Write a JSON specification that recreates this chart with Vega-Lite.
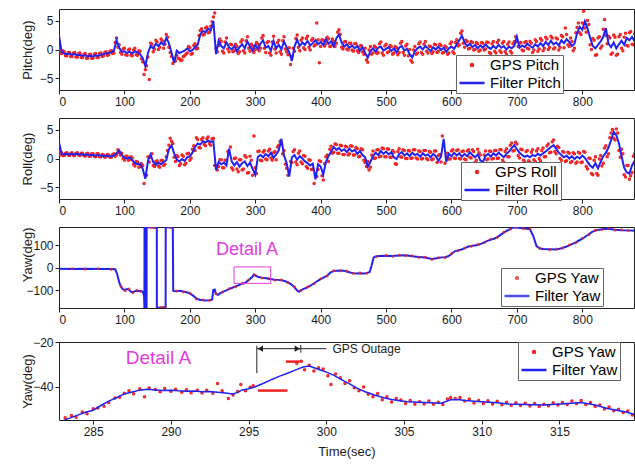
{
"$schema": "https://vega.github.io/schema/vega-lite/v6.json",
"background": "white",
"padding": {"left": 20, "top": 8, "right": 0, "bottom": 0},
"spacing": 9,
"datasets": {
"pr": [{"t":0,"p":2.5,"r":2.8},{"t":4,"p":-0.4,"r":0.8},{"t":8,"p":-0.7,"r":0.7},{"t":12,"p":-0.8,"r":0.8},{"t":16,"p":-0.7,"r":0.7},{"t":20,"p":-0.9,"r":0.8},{"t":24,"p":-0.8,"r":0.7},{"t":28,"p":-1.0,"r":0.8},{"t":32,"p":-0.9,"r":0.7},{"t":36,"p":-1.1,"r":0.7},{"t":40,"p":-1.0,"r":0.6},{"t":44,"p":-1.2,"r":0.7},{"t":48,"p":-1.1,"r":0.6},{"t":52,"p":-1.2,"r":0.6},{"t":56,"p":-1.0,"r":0.5},{"t":60,"p":-1.1,"r":0.6},{"t":64,"p":-0.9,"r":0.5},{"t":68,"p":-0.8,"r":0.4},{"t":72,"p":-0.7,"r":0.5},{"t":76,"p":-0.6,"r":0.4},{"t":80,"p":-0.5,"r":0.4},{"t":84,"p":-0.2,"r":0.5},{"t":88,"p":1.6,"r":0.9},{"t":92,"p":0.3,"r":1.4},{"t":96,"p":-0.4,"r":0.6},{"t":100,"p":-0.3,"r":0.1},{"t":104,"p":-0.6,"r":0.0},{"t":108,"p":-0.4,"r":0.2},{"t":112,"p":-0.7,"r":-0.3},{"t":116,"p":-0.3,"r":-0.8},{"t":120,"p":-0.5,"r":-1.0},{"t":124,"p":-0.8,"r":-0.9},{"t":128,"p":-1.5,"r":-1.8},{"t":132,"p":-2.9,"r":-3.5},{"t":136,"p":-0.6,"r":-0.4},{"t":140,"p":0.6,"r":0.7},{"t":144,"p":0.2,"r":-0.6},{"t":148,"p":1.0,"r":-1.1},{"t":152,"p":0.6,"r":-0.7},{"t":156,"p":1.2,"r":-1.0},{"t":160,"p":0.8,"r":-0.6},{"t":164,"p":2.0,"r":-0.3},{"t":168,"p":1.1,"r":1.6},{"t":172,"p":-0.5,"r":2.3},{"t":176,"p":-2.3,"r":0.9},{"t":180,"p":-0.2,"r":-0.2},{"t":184,"p":-0.6,"r":-0.5},{"t":188,"p":-0.4,"r":-0.1},{"t":192,"p":-0.2,"r":-0.4},{"t":196,"p":0.2,"r":0.2},{"t":200,"p":-0.3,"r":0.4},{"t":204,"p":-0.1,"r":1.0},{"t":208,"p":0.4,"r":2.0},{"t":212,"p":0.8,"r":2.6},{"t":216,"p":2.6,"r":2.4},{"t":220,"p":3.2,"r":3.0},{"t":224,"p":3.0,"r":2.8},{"t":228,"p":3.6,"r":3.1},{"t":232,"p":3.3,"r":2.9},{"t":236,"p":4.9,"r":3.0},{"t":240,"p":-0.8,"r":-2.0},{"t":244,"p":1.5,"r":-0.6},{"t":248,"p":0.6,"r":-1.0},{"t":252,"p":0.2,"r":-0.7},{"t":256,"p":1.2,"r":-1.2},{"t":260,"p":0.4,"r":1.7},{"t":264,"p":0.0,"r":-0.5},{"t":268,"p":0.6,"r":-1.2},{"t":272,"p":-0.3,"r":-0.6},{"t":276,"p":0.4,"r":-1.4},{"t":280,"p":0.9,"r":-0.8},{"t":284,"p":0.2,"r":-0.5},{"t":288,"p":1.4,"r":-1.3},{"t":292,"p":0.5,"r":-0.7},{"t":296,"p":-0.2,"r":-1.8},{"t":300,"p":0.8,"r":-2.8},{"t":304,"p":0.1,"r":0.3},{"t":308,"p":1.0,"r":0.6},{"t":312,"p":1.6,"r":0.2},{"t":316,"p":0.3,"r":0.8},{"t":320,"p":0.6,"r":0.4},{"t":324,"p":-0.2,"r":1.0},{"t":328,"p":1.5,"r":0.1},{"t":332,"p":0.2,"r":0.7},{"t":336,"p":0.8,"r":1.4},{"t":340,"p":0.0,"r":3.4},{"t":344,"p":1.4,"r":0.5},{"t":348,"p":0.4,"r":-0.8},{"t":352,"p":-0.5,"r":-3.1},{"t":356,"p":-2.0,"r":0.2},{"t":360,"p":0.5,"r":0.6},{"t":364,"p":1.7,"r":-0.2},{"t":368,"p":0.6,"r":0.4},{"t":372,"p":1.2,"r":0.0},{"t":376,"p":0.8,"r":-0.5},{"t":380,"p":1.5,"r":-0.8},{"t":384,"p":0.7,"r":-1.2},{"t":388,"p":1.1,"r":-0.9},{"t":392,"p":1.6,"r":-3.6},{"t":396,"p":0.9,"r":-1.0},{"t":400,"p":1.3,"r":-1.4},{"t":404,"p":0.8,"r":-2.8},{"t":408,"p":1.8,"r":-0.6},{"t":412,"p":1.0,"r":0.4},{"t":416,"p":1.4,"r":1.2},{"t":420,"p":0.6,"r":2.0},{"t":424,"p":1.9,"r":1.5},{"t":428,"p":2.6,"r":1.8},{"t":432,"p":1.2,"r":1.3},{"t":436,"p":0.5,"r":1.6},{"t":440,"p":0.9,"r":1.1},{"t":444,"p":0.3,"r":1.7},{"t":448,"p":0.7,"r":1.2},{"t":452,"p":0.2,"r":1.5},{"t":456,"p":0.6,"r":0.8},{"t":460,"p":-0.2,"r":1.3},{"t":464,"p":0.4,"r":0.6},{"t":468,"p":-0.6,"r":0.2},{"t":472,"p":-1.4,"r":-1.4},{"t":476,"p":-0.3,"r":-0.6},{"t":480,"p":0.2,"r":0.4},{"t":484,"p":-0.4,"r":1.0},{"t":488,"p":0.3,"r":0.6},{"t":492,"p":0.5,"r":1.3},{"t":496,"p":-0.2,"r":0.8},{"t":500,"p":0.1,"r":1.2},{"t":504,"p":0.4,"r":0.7},{"t":508,"p":-0.3,"r":1.1},{"t":512,"p":0.2,"r":0.2},{"t":516,"p":-0.5,"r":-0.1},{"t":520,"p":0.3,"r":0.8},{"t":524,"p":0.6,"r":1.1},{"t":528,"p":-0.2,"r":0.5},{"t":532,"p":0.1,"r":0.9},{"t":536,"p":-0.8,"r":0.4},{"t":540,"p":-1.4,"r":1.0},{"t":544,"p":-0.3,"r":0.6},{"t":548,"p":0.2,"r":0.8},{"t":552,"p":0.5,"r":0.3},{"t":556,"p":0.0,"r":0.9},{"t":560,"p":0.6,"r":0.5},{"t":564,"p":0.2,"r":0.7},{"t":568,"p":-0.3,"r":0.2},{"t":572,"p":0.4,"r":0.8},{"t":576,"p":0.0,"r":0.4},{"t":580,"p":0.5,"r":-0.4},{"t":584,"p":-0.1,"r":0.3},{"t":588,"p":0.3,"r":3.4},{"t":592,"p":-0.4,"r":-0.6},{"t":596,"p":0.2,"r":0.8},{"t":600,"p":0.5,"r":0.4},{"t":604,"p":0.1,"r":1.0},{"t":608,"p":0.9,"r":0.5},{"t":612,"p":1.6,"r":0.9},{"t":616,"p":2.4,"r":0.3},{"t":620,"p":1.2,"r":0.8},{"t":624,"p":0.6,"r":0.4},{"t":628,"p":1.0,"r":1.1},{"t":632,"p":0.4,"r":0.6},{"t":636,"p":0.8,"r":0.2},{"t":640,"p":0.2,"r":0.7},{"t":644,"p":0.7,"r":-0.3},{"t":648,"p":0.3,"r":-0.6},{"t":652,"p":0.9,"r":0.4},{"t":656,"p":0.4,"r":0.8},{"t":660,"p":0.1,"r":0.3},{"t":664,"p":0.6,"r":0.9},{"t":668,"p":0.2,"r":0.5},{"t":672,"p":0.8,"r":1.0},{"t":676,"p":0.3,"r":0.6},{"t":680,"p":0.6,"r":0.2},{"t":684,"p":0.0,"r":0.8},{"t":688,"p":0.5,"r":1.2},{"t":692,"p":0.2,"r":1.8},{"t":696,"p":0.6,"r":2.3},{"t":700,"p":2.2,"r":1.6},{"t":704,"p":0.3,"r":1.0},{"t":708,"p":0.7,"r":0.6},{"t":712,"p":0.4,"r":0.3},{"t":716,"p":1.0,"r":0.5},{"t":720,"p":0.6,"r":0.2},{"t":724,"p":0.3,"r":0.6},{"t":728,"p":0.9,"r":0.4},{"t":732,"p":0.5,"r":0.8},{"t":736,"p":1.1,"r":0.5},{"t":740,"p":0.6,"r":0.9},{"t":744,"p":1.3,"r":1.2},{"t":748,"p":0.8,"r":1.6},{"t":752,"p":1.5,"r":2.0},{"t":756,"p":0.9,"r":2.3},{"t":760,"p":1.2,"r":1.7},{"t":764,"p":0.7,"r":1.0},{"t":768,"p":1.6,"r":0.6},{"t":772,"p":1.1,"r":0.2},{"t":776,"p":1.8,"r":0.5},{"t":780,"p":1.3,"r":0.0},{"t":784,"p":0.6,"r":0.4},{"t":788,"p":1.0,"r":-0.1},{"t":792,"p":2.8,"r":0.3},{"t":796,"p":3.9,"r":0.0},{"t":800,"p":3.4,"r":0.5},{"t":804,"p":4.9,"r":0.1},{"t":808,"p":3.6,"r":-0.6},{"t":812,"p":2.0,"r":-1.2},{"t":816,"p":0.6,"r":-1.6},{"t":820,"p":0.2,"r":-0.8},{"t":824,"p":0.8,"r":-1.7},{"t":828,"p":1.4,"r":-0.6},{"t":832,"p":2.2,"r":0.4},{"t":836,"p":3.7,"r":1.0},{"t":840,"p":1.0,"r":1.9},{"t":844,"p":0.4,"r":3.2},{"t":848,"p":1.2,"r":4.6},{"t":852,"p":0.2,"r":4.0},{"t":856,"p":0.9,"r":2.6},{"t":860,"p":1.5,"r":0.4},{"t":864,"p":0.8,"r":-1.6},{"t":868,"p":2.0,"r":-2.4},{"t":872,"p":1.6,"r":-2.6},{"t":876,"p":2.2,"r":-1.2},{"t":880,"p":1.4,"r":-0.4}],
"g": [{"t":2,"p":-0.2,"r":0.6},{"t":6,"p":-0.2,"r":0.5},{"t":10,"p":-1.1,"r":0.9},{"t":14,"p":-0.5,"r":0.6},{"t":18,"p":-1.2,"r":0.9},{"t":22,"p":-0.6,"r":0.5},{"t":26,"p":-1.3,"r":0.9},{"t":30,"p":-0.7,"r":0.6},{"t":34,"p":-1.4,"r":0.9},{"t":38,"p":-0.8,"r":0.5},{"t":42,"p":-1.5,"r":0.8},{"t":46,"p":-0.9,"r":0.4},{"t":50,"p":-1.5,"r":0.8},{"t":54,"p":-0.8,"r":0.4},{"t":58,"p":-1.4,"r":0.8},{"t":62,"p":-0.7,"r":0.3},{"t":66,"p":-1.2,"r":0.7},{"t":70,"p":-0.5,"r":0.2},{"t":74,"p":-1.0,"r":0.7},{"t":78,"p":-0.3,"r":0.2},{"t":82,"p":-0.7,"r":0.7},{"t":86,"p":1.2,"r":0.4},{"t":90,"p":0.4,"r":1.5},{"t":94,"p":-0.5,"r":0.6},{"t":98,"p":0.1,"r":0.0},{"t":102,"p":-0.9,"r":0.4},{"t":106,"p":-0.1,"r":-0.3},{"t":110,"p":-1.0,"r":0.3},{"t":114,"p":-0.1,"r":-1.0},{"t":118,"p":-0.9,"r":-0.5},{"t":122,"p":-0.2,"r":-1.5},{"t":126,"p":-1.6,"r":-0.9},{"t":130,"p":-4.3,"r":-4.3},{"t":134,"p":-2.8,"r":-2.9},{"t":138,"p":-5.2,"r":-0.6},{"t":142,"p":0.9,"r":0.8},{"t":146,"p":0.1,"r":-1.4},{"t":150,"p":1.3,"r":-0.4},{"t":154,"p":0.4,"r":-1.5},{"t":158,"p":1.5,"r":-0.3},{"t":162,"p":0.9,"r":-1.0},{"t":166,"p":2.1,"r":1.4},{"t":170,"p":-0.5,"r":3.5},{"t":174,"p":-2.4,"r":2.6},{"t":178,"p":-2.0,"r":-0.5},{"t":182,"p":-1.5,"r":0.3},{"t":186,"p":-1.9,"r":-0.9},{"t":190,"p":-1.2,"r":0.4},{"t":194,"p":-0.8,"r":-0.8},{"t":198,"p":0.5,"r":0.9},{"t":202,"p":-0.8,"r":0.1},{"t":206,"p":0.7,"r":2.2},{"t":210,"p":0.1,"r":3.6},{"t":214,"p":2.4,"r":1.9},{"t":218,"p":3.6,"r":3.3},{"t":222,"p":2.6,"r":2.4},{"t":226,"p":3.9,"r":3.4},{"t":230,"p":3.0,"r":2.6},{"t":234,"p":4.8,"r":3.4},{"t":238,"p":6.3,"r":-1.2},{"t":242,"p":-0.4,"r":-2.0},{"t":246,"p":1.8,"r":-0.2},{"t":250,"p":-0.3,"r":-1.6},{"t":254,"p":1.3,"r":-0.3},{"t":258,"p":0.1,"r":1.2},{"t":262,"p":0.9,"r":2.0},{"t":266,"p":-0.4,"r":-2.0},{"t":270,"p":0.9,"r":0.1},{"t":274,"p":-0.7,"r":-2.3},{"t":278,"p":1.3,"r":-0.2},{"t":282,"p":-0.2,"r":-1.8},{"t":286,"p":1.5,"r":0.2},{"t":290,"p":0.2,"r":-2.4},{"t":294,"p":0.9,"r":-0.3},{"t":298,"p":-0.5,"r":3.9},{"t":302,"p":1.2,"r":-2.6},{"t":306,"p":-0.2,"r":1.3},{"t":310,"p":2.0,"r":-0.4},{"t":314,"p":0.2,"r":1.4},{"t":318,"p":1.2,"r":-0.2},{"t":322,"p":-0.6,"r":1.6},{"t":326,"p":1.3,"r":-0.3},{"t":330,"p":0.1,"r":1.2},{"t":334,"p":1.2,"r":2.0},{"t":338,"p":-0.4,"r":3.0},{"t":342,"p":1.5,"r":0.8},{"t":346,"p":0.1,"r":-1.0},{"t":350,"p":-0.9,"r":-2.9},{"t":354,"p":-2.6,"r":-0.5},{"t":358,"p":0.2,"r":1.2},{"t":362,"p":1.9,"r":-0.6},{"t":366,"p":0.4,"r":0.9},{"t":370,"p":1.6,"r":-0.6},{"t":374,"p":0.3,"r":0.5},{"t":378,"p":1.9,"r":-1.4},{"t":382,"p":0.4,"r":-0.2},{"t":386,"p":1.6,"r":-1.9},{"t":390,"p":0.6,"r":-4.3},{"t":394,"p":4.6,"r":-3.1},{"t":398,"p":-2.3,"r":-0.4},{"t":402,"p":1.7,"r":-3.0},{"t":406,"p":0.6,"r":-0.9},{"t":410,"p":2.1,"r":0.6},{"t":414,"p":0.5,"r":1.6},{"t":418,"p":1.8,"r":0.9},{"t":422,"p":0.5,"r":2.5},{"t":426,"p":3.0,"r":0.9},{"t":430,"p":2.6,"r":2.3},{"t":434,"p":0.1,"r":0.7},{"t":438,"p":1.4,"r":2.1},{"t":442,"p":-0.1,"r":0.6},{"t":446,"p":1.1,"r":2.2},{"t":450,"p":-0.3,"r":0.6},{"t":454,"p":1.0,"r":1.9},{"t":458,"p":-0.5,"r":0.3},{"t":462,"p":0.7,"r":1.7},{"t":466,"p":-0.8,"r":-0.3},{"t":470,"p":-1.8,"r":-1.4},{"t":474,"p":-0.1,"r":-2.0},{"t":478,"p":-0.8,"r":0.6},{"t":482,"p":0.6,"r":0.0},{"t":486,"p":-0.7,"r":1.5},{"t":490,"p":1.0,"r":0.3},{"t":494,"p":-0.6,"r":1.8},{"t":498,"p":0.6,"r":0.3},{"t":502,"p":-0.5,"r":1.7},{"t":506,"p":0.7,"r":0.2},{"t":510,"p":-0.8,"r":1.4},{"t":514,"p":0.5,"r":-0.9},{"t":518,"p":-0.9,"r":1.2},{"t":522,"p":1.1,"r":0.3},{"t":526,"p":-0.5,"r":1.5},{"t":530,"p":0.6,"r":0.0},{"t":534,"p":-1.1,"r":1.4},{"t":538,"p":-1.9,"r":0.0},{"t":542,"p":-0.1,"r":1.5},{"t":546,"p":-0.8,"r":0.1},{"t":550,"p":1.0,"r":1.3},{"t":554,"p":-0.5,"r":-0.1},{"t":558,"p":0.9,"r":1.4},{"t":562,"p":-0.3,"r":0.0},{"t":566,"p":0.6,"r":1.2},{"t":570,"p":-0.7,"r":-0.2},{"t":574,"p":0.9,"r":1.3},{"t":578,"p":-0.5,"r":-0.7},{"t":582,"p":0.9,"r":0.7},{"t":586,"p":-0.6,"r":3.9},{"t":590,"p":0.6,"r":-0.8},{"t":594,"p":-0.8,"r":0.9},{"t":598,"p":1.0,"r":-0.1},{"t":602,"p":-0.4,"r":1.5},{"t":606,"p":1.2,"r":0.0},{"t":610,"p":0.6,"r":1.5},{"t":614,"p":2.8,"r":-0.1},{"t":618,"p":1.1,"r":1.3},{"t":622,"p":1.6,"r":-0.2},{"t":626,"p":0.1,"r":1.5},{"t":630,"p":1.4,"r":0.1},{"t":634,"p":-0.1,"r":1.2},{"t":638,"p":1.2,"r":-0.3},{"t":642,"p":-0.3,"r":1.0},{"t":646,"p":1.2,"r":-1.4},{"t":650,"p":-0.1,"r":0.6},{"t":654,"p":1.3,"r":-0.2},{"t":658,"p":-0.5,"r":1.3},{"t":662,"p":1.0,"r":-0.1},{"t":666,"p":-0.3,"r":1.4},{"t":670,"p":1.2,"r":0.0},{"t":674,"p":-0.2,"r":1.5},{"t":678,"p":1.1,"r":-0.3},{"t":682,"p":-0.4,"r":1.2},{"t":686,"p":0.9,"r":0.3},{"t":690,"p":-0.3,"r":2.3},{"t":694,"p":1.0,"r":1.3},{"t":698,"p":2.2,"r":2.8},{"t":702,"p":0.5,"r":0.5},{"t":706,"p":1.2,"r":1.6},{"t":710,"p":-0.2,"r":-0.3},{"t":714,"p":1.4,"r":1.2},{"t":718,"p":0.1,"r":-0.4},{"t":722,"p":1.1,"r":1.1},{"t":726,"p":-0.1,"r":-0.2},{"t":730,"p":1.4,"r":1.3},{"t":734,"p":0.1,"r":0.0},{"t":738,"p":1.6,"r":1.4},{"t":742,"p":0.2,"r":0.3},{"t":746,"p":1.8,"r":2.2},{"t":750,"p":0.4,"r":1.0},{"t":754,"p":2.0,"r":2.9},{"t":758,"p":0.3,"r":1.2},{"t":762,"p":1.8,"r":2.1},{"t":766,"p":0.4,"r":0.0},{"t":770,"p":2.2,"r":1.2},{"t":774,"p":3.7,"r":-0.5},{"t":778,"p":0.8,"r":1.1},{"t":782,"p":2.0,"r":-0.7},{"t":786,"p":-0.2,"r":1.0},{"t":790,"p":2.9,"r":-0.8},{"t":794,"p":4.6,"r":1.1},{"t":798,"p":2.6,"r":-0.7},{"t":802,"p":6.6,"r":1.2},{"t":806,"p":3.0,"r":-1.4},{"t":810,"p":4.3,"r":0.1},{"t":814,"p":0.0,"r":-2.6},{"t":818,"p":1.6,"r":-0.3},{"t":822,"p":-0.9,"r":-2.6},{"t":826,"p":2.2,"r":-0.1},{"t":830,"p":0.6,"r":-1.3},{"t":834,"p":5.2,"r":1.8},{"t":838,"p":1.0,"r":0.3},{"t":842,"p":2.0,"r":3.6},{"t":846,"p":-0.6,"r":5.0},{"t":850,"p":2.1,"r":3.2},{"t":854,"p":-0.8,"r":4.4},{"t":858,"p":2.6,"r":0.2},{"t":862,"p":-0.2,"r":0.8},{"t":866,"p":2.8,"r":-3.2},{"t":870,"p":0.6,"r":-1.2},{"t":874,"p":3.1,"r":-3.0},{"t":878,"p":0.8,"r":0.4},
{"t":0,"p":0.3,"r":1.2},{"t":4,"p":-0.7,"r":1.0},{"t":8,"p":-0.4,"r":0.5},{"t":12,"p":-1.1,"r":1.0},{"t":16,"p":-0.5,"r":0.5},{"t":20,"p":-1.2,"r":1.0},{"t":24,"p":-0.5,"r":0.5},{"t":28,"p":-1.3,"r":1.0},{"t":32,"p":-0.6,"r":0.5},{"t":36,"p":-1.4,"r":0.9},{"t":40,"p":-0.7,"r":0.4},{"t":44,"p":-1.5,"r":0.9},{"t":48,"p":-0.8,"r":0.4},{"t":52,"p":-1.5,"r":0.8},{"t":56,"p":-0.7,"r":0.3},{"t":60,"p":-1.4,"r":0.8},{"t":64,"p":-0.6,"r":0.3},{"t":68,"p":-1.1,"r":0.6},{"t":72,"p":-0.4,"r":0.3},{"t":76,"p":-0.9,"r":0.6},{"t":80,"p":-0.2,"r":0.2},{"t":84,"p":-0.6,"r":0.8},{"t":88,"p":2.0,"r":0.6},{"t":92,"p":0.8,"r":1.0},{"t":96,"p":-0.8,"r":0.9},{"t":100,"p":0.2,"r":-0.3},{"t":104,"p":-1.0,"r":0.4},{"t":108,"p":0.1,"r":-0.2},{"t":112,"p":-1.1,"r":0.1},{"t":116,"p":0.2,"r":-1.3},{"t":120,"p":-1.0,"r":-0.6},{"t":124,"p":-0.3,"r":-1.4},{"t":128,"p":-2.1,"r":-1.2},{"t":132,"p":-3.5,"r":-2.8},{"t":136,"p":-1.3,"r":0.3},{"t":140,"p":1.1,"r":0.2},{"t":144,"p":-0.4,"r":-1.2},{"t":148,"p":1.6,"r":-0.5},{"t":152,"p":0.0,"r":-1.3},{"t":156,"p":1.8,"r":-0.4},{"t":160,"p":0.2,"r":-1.2},{"t":164,"p":2.6,"r":0.3},{"t":168,"p":0.4,"r":2.3},{"t":172,"p":-1.2,"r":3.0},{"t":176,"p":-1.6,"r":0.2},{"t":180,"p":-1.0,"r":0.5},{"t":184,"p":-1.6,"r":-1.2},{"t":188,"p":-1.8,"r":0.6},{"t":192,"p":-1.1,"r":-1.1},{"t":196,"p":-0.6,"r":0.8},{"t":200,"p":0.3,"r":-0.3},{"t":204,"p":-0.7,"r":1.6},{"t":208,"p":1.0,"r":1.4},{"t":212,"p":0.2,"r":3.3},{"t":216,"p":3.3,"r":1.8},{"t":220,"p":2.5,"r":3.6},{"t":224,"p":3.7,"r":2.2},{"t":228,"p":2.9,"r":3.7},{"t":232,"p":4.0,"r":2.3},{"t":236,"p":5.6,"r":3.5},{"t":240,"p":0.2,"r":-1.2},{"t":244,"p":0.7,"r":-1.4},{"t":248,"p":1.4,"r":-0.2},{"t":252,"p":-0.6,"r":-1.6},{"t":256,"p":2.0,"r":-0.3},{"t":260,"p":-0.4,"r":0.8},{"t":264,"p":0.8,"r":-1.6},{"t":268,"p":-0.2,"r":0.0},{"t":272,"p":0.5,"r":-1.8},{"t":276,"p":-0.4,"r":-0.2},{"t":280,"p":1.7,"r":-2.0},{"t":284,"p":-0.6,"r":0.5},{"t":288,"p":2.2,"r":-2.5},{"t":292,"p":-0.3,"r":0.4},{"t":296,"p":0.6,"r":-2.9},{"t":300,"p":0.0,"r":-1.6},{"t":304,"p":0.9,"r":1.2},{"t":308,"p":0.2,"r":-0.3},{"t":312,"p":2.4,"r":1.1},{"t":316,"p":-0.5,"r":-0.1},{"t":320,"p":1.4,"r":1.3},{"t":324,"p":-1.0,"r":0.1},{"t":328,"p":2.3,"r":1.0},{"t":332,"p":-0.6,"r":-0.2},{"t":336,"p":1.6,"r":2.3},{"t":340,"p":-0.8,"r":2.5},{"t":344,"p":2.2,"r":1.4},{"t":348,"p":-0.4,"r":-1.7},{"t":352,"p":0.3,"r":-2.2},{"t":356,"p":-1.2,"r":-0.7},{"t":360,"p":-0.3,"r":1.5},{"t":364,"p":2.5,"r":-1.1},{"t":368,"p":-0.2,"r":1.3},{"t":372,"p":2.0,"r":-0.9},{"t":376,"p":0.0,"r":0.4},{"t":380,"p":2.3,"r":-1.7},{"t":384,"p":-0.1,"r":-0.3},{"t":388,"p":1.9,"r":-1.8},{"t":392,"p":0.8,"r":-2.7},{"t":396,"p":1.7,"r":-1.9},{"t":400,"p":0.5,"r":-0.5},{"t":404,"p":1.6,"r":-3.7},{"t":408,"p":1.0,"r":0.3},{"t":412,"p":1.8,"r":-0.5},{"t":416,"p":0.6,"r":2.1},{"t":420,"p":1.4,"r":1.1},{"t":424,"p":1.1,"r":2.4},{"t":428,"p":3.4,"r":0.9},{"t":432,"p":0.4,"r":2.2},{"t":436,"p":1.3,"r":0.7},{"t":440,"p":0.1,"r":2.0},{"t":444,"p":1.1,"r":0.8},{"t":448,"p":-0.1,"r":2.1},{"t":452,"p":1.0,"r":0.6},{"t":456,"p":-0.2,"r":1.7},{"t":460,"p":0.6,"r":0.4},{"t":464,"p":-0.4,"r":1.5},{"t":468,"p":0.2,"r":-0.7},{"t":472,"p":-2.2,"r":-0.5},{"t":476,"p":0.5,"r":-1.5},{"t":480,"p":-0.6,"r":1.3},{"t":484,"p":0.4,"r":0.1},{"t":488,"p":-0.5,"r":1.5},{"t":492,"p":1.3,"r":0.4},{"t":496,"p":-1.0,"r":1.7},{"t":500,"p":0.9,"r":0.3},{"t":504,"p":-0.4,"r":1.6},{"t":508,"p":0.5,"r":0.2},{"t":512,"p":-0.6,"r":1.1},{"t":516,"p":0.3,"r":-1.0},{"t":520,"p":-0.5,"r":1.7},{"t":524,"p":1.4,"r":0.2},{"t":528,"p":-1.0,"r":1.4},{"t":532,"p":0.9,"r":0.0},{"t":536,"p":0.0,"r":1.3},{"t":540,"p":-2.2,"r":0.1},{"t":544,"p":0.5,"r":1.5},{"t":548,"p":-0.6,"r":-0.1},{"t":552,"p":1.3,"r":1.2},{"t":556,"p":-0.8,"r":0.0},{"t":560,"p":1.4,"r":1.4},{"t":564,"p":-0.6,"r":-0.2},{"t":568,"p":0.5,"r":1.1},{"t":572,"p":-0.4,"r":-0.1},{"t":576,"p":0.8,"r":1.3},{"t":580,"p":-0.3,"r":0.5},{"t":584,"p":0.7,"r":-0.6},{"t":588,"p":-0.5,"r":2.5},{"t":592,"p":0.4,"r":0.3},{"t":596,"p":-0.6,"r":-0.1},{"t":600,"p":1.3,"r":1.3},{"t":604,"p":-0.7,"r":0.1},{"t":608,"p":1.7,"r":1.4},{"t":612,"p":0.8,"r":0.0},{"t":616,"p":3.2,"r":1.2},{"t":620,"p":0.4,"r":-0.1},{"t":624,"p":1.4,"r":1.3},{"t":628,"p":0.2,"r":0.2},{"t":632,"p":1.2,"r":1.5},{"t":636,"p":0.0,"r":-0.7},{"t":640,"p":1.0,"r":1.6},{"t":644,"p":-0.1,"r":0.6},{"t":648,"p":1.1,"r":-1.5},{"t":652,"p":0.1,"r":1.3},{"t":656,"p":1.2,"r":-0.1},{"t":660,"p":-0.7,"r":1.2},{"t":664,"p":1.4,"r":0.0},{"t":668,"p":-0.6,"r":1.4},{"t":672,"p":1.6,"r":0.1},{"t":676,"p":-0.5,"r":1.5},{"t":680,"p":1.4,"r":-0.7},{"t":684,"p":-0.8,"r":1.7},{"t":688,"p":1.3,"r":0.3},{"t":692,"p":-0.6,"r":2.7},{"t":696,"p":1.4,"r":1.4},{"t":700,"p":1.4,"r":2.5},{"t":704,"p":1.1,"r":0.1},{"t":708,"p":-0.1,"r":1.5},{"t":712,"p":1.2,"r":-0.6},{"t":716,"p":0.2,"r":1.4},{"t":720,"p":1.4,"r":-0.7},{"t":724,"p":-0.5,"r":1.5},{"t":728,"p":1.7,"r":-0.5},{"t":732,"p":-0.3,"r":1.7},{"t":736,"p":1.9,"r":-0.4},{"t":740,"p":-0.2,"r":1.8},{"t":744,"p":2.1,"r":0.3},{"t":748,"p":0.0,"r":2.5},{"t":752,"p":2.3,"r":1.1},{"t":756,"p":0.1,"r":3.2},{"t":760,"p":2.0,"r":0.8},{"t":764,"p":-0.1,"r":1.9},{"t":768,"p":2.4,"r":-0.3},{"t":772,"p":0.3,"r":1.1},{"t":776,"p":2.6,"r":-0.4},{"t":780,"p":0.5,"r":0.9},{"t":784,"p":1.4,"r":-0.5},{"t":788,"p":0.2,"r":0.8},{"t":792,"p":3.8,"r":-0.6},{"t":796,"p":2.9,"r":0.9},{"t":800,"p":4.6,"r":-0.6},{"t":804,"p":3.7,"r":1.1},{"t":808,"p":5.0,"r":-1.8},{"t":812,"p":0.8,"r":0.0},{"t":816,"p":1.9,"r":-2.8},{"t":820,"p":-1.0,"r":0.3},{"t":824,"p":2.0,"r":-2.9},{"t":828,"p":0.2,"r":0.5},{"t":832,"p":3.5,"r":-0.8},{"t":836,"p":2.4,"r":2.2},{"t":840,"p":2.3,"r":0.8},{"t":844,"p":-0.8,"r":4.4},{"t":848,"p":2.5,"r":3.5},{"t":852,"p":-1.0,"r":5.1},{"t":856,"p":2.2,"r":1.4},{"t":860,"p":0.2,"r":1.6},{"t":864,"p":2.1,"r":-2.8},{"t":868,"p":0.7,"r":-1.2},{"t":872,"p":2.9,"r":-3.6},{"t":876,"p":0.9,"r":-2.4},{"t":880,"p":2.7,"r":0.8}],
"yf": [{"t":0,"y":-6},{"t":20,"y":-7},{"t":40,"y":-6},{"t":60,"y":-7},{"t":80,"y":-7},{"t":86,"y":-8},{"t":89,"y":-30},{"t":92,"y":-65},{"t":95,"y":-88},{"t":98,"y":-97},{"t":101,"y":-100},{"t":104,"y":-96},{"t":107,"y":-98},{"t":110,"y":-108},{"t":113,"y":-110},{"t":116,"y":-105},{"t":119,"y":-103},{"t":122,"y":-104},{"t":125,"y":-103},{"t":128,"y":-108},{"t":130,"y":-125},{"t":130.6,"y":-180},{"t":130.7,"y":180},{"t":133.4,"y":177},{"t":133.5,"y":-180},{"t":133.9,"y":-178},{"t":134,"y":180},{"t":149.5,"y":177},{"t":149.6,"y":-180},{"t":163,"y":-177},{"t":163.1,"y":180},{"t":174,"y":177},{"t":174.6,"y":-103},{"t":176,"y":-104},{"t":180,"y":-106},{"t":185,"y":-103},{"t":190,"y":-107},{"t":195,"y":-110},{"t":200,"y":-115},{"t":205,"y":-125},{"t":210,"y":-138},{"t":215,"y":-143},{"t":220,"y":-146},{"t":225,"y":-147},{"t":230,"y":-145},{"t":234,"y":-143},{"t":236,"y":-100},{"t":238,"y":-98},{"t":240,"y":-118},{"t":243,"y":-122},{"t":246,"y":-115},{"t":250,"y":-108},{"t":255,"y":-103},{"t":260,"y":-96},{"t":265,"y":-90},{"t":270,"y":-84},{"t":275,"y":-78},{"t":280,"y":-72},{"t":285,"y":-68},{"t":290,"y":-55},{"t":295,"y":-44},{"t":298,"y":-31},{"t":300,"y":-36},{"t":305,"y":-42},{"t":310,"y":-45},{"t":315,"y":-47},{"t":320,"y":-50},{"t":325,"y":-52},{"t":330,"y":-54},{"t":335,"y":-55},{"t":340,"y":-57},{"t":345,"y":-60},{"t":350,"y":-66},{"t":355,"y":-75},{"t":360,"y":-88},{"t":364,"y":-102},{"t":367,"y":-108},{"t":370,"y":-100},{"t":375,"y":-94},{"t":380,"y":-88},{"t":385,"y":-80},{"t":390,"y":-70},{"t":395,"y":-60},{"t":400,"y":-52},{"t":405,"y":-44},{"t":410,"y":-36},{"t":415,"y":-22},{"t":420,"y":-16},{"t":425,"y":-14},{"t":430,"y":-13},{"t":435,"y":-14},{"t":440,"y":-18},{"t":445,"y":-22},{"t":450,"y":-25},{"t":455,"y":-27},{"t":460,"y":-26},{"t":465,"y":-27},{"t":470,"y":-25},{"t":475,"y":-20},{"t":478,"y":10},{"t":481,"y":45},{"t":485,"y":50},{"t":490,"y":51},{"t":500,"y":52},{"t":510,"y":51},{"t":520,"y":53},{"t":530,"y":54},{"t":540,"y":50},{"t":550,"y":47},{"t":560,"y":44},{"t":570,"y":38},{"t":575,"y":40},{"t":580,"y":42},{"t":585,"y":45},{"t":590,"y":46},{"t":595,"y":50},{"t":600,"y":60},{"t":605,"y":72},{"t":610,"y":76},{"t":615,"y":80},{"t":620,"y":85},{"t":625,"y":92},{"t":630,"y":96},{"t":635,"y":98},{"t":640,"y":100},{"t":645,"y":105},{"t":650,"y":112},{"t":655,"y":118},{"t":660,"y":124},{"t":665,"y":128},{"t":670,"y":135},{"t":675,"y":145},{"t":680,"y":155},{"t":685,"y":164},{"t":690,"y":172},{"t":695,"y":179},{"t":700,"y":178},{"t":705,"y":175},{"t":710,"y":174},{"t":715,"y":172},{"t":720,"y":170},{"t":725,"y":140},{"t":730,"y":95},{"t":735,"y":84},{"t":740,"y":82},{"t":750,"y":81},{"t":760,"y":80},{"t":765,"y":83},{"t":770,"y":88},{"t":775,"y":92},{"t":780,"y":98},{"t":785,"y":105},{"t":790,"y":112},{"t":795,"y":120},{"t":800,"y":128},{"t":805,"y":138},{"t":810,"y":148},{"t":815,"y":158},{"t":820,"y":164},{"t":825,"y":168},{"t":830,"y":170},{"t":835,"y":171},{"t":840,"y":172},{"t":845,"y":170},{"t":850,"y":168},{"t":860,"y":166},{"t":870,"y":165},{"t":880,"y":163}],
"yg": [{"t":20,"y":-5},{"t":40,"y":-8},{"t":60,"y":-5},{"t":80,"y":-9},{"t":95,"y":-85},{"t":101,"y":-103},{"t":107,"y":-95},{"t":113,"y":-112},{"t":119,"y":-101},{"t":125,"y":-106},{"t":140,"y":178},{"t":145,"y":177},{"t":155,"y":-178},{"t":160,"y":-177},{"t":170,"y":178},{"t":180,"y":-104},{"t":190,"y":-109},{"t":200,"y":-113},{"t":210,"y":-140},{"t":220,"y":-144},{"t":230,"y":-147},{"t":240,"y":-116},{"t":250,"y":-110},{"t":260,"y":-94},{"t":270,"y":-86},{"t":280,"y":-70},{"t":290,"y":-57},{"t":300,"y":-34},{"t":310,"y":-47},{"t":320,"y":-48},{"t":330,"y":-56},{"t":340,"y":-55},{"t":350,"y":-68},{"t":360,"y":-86},{"t":370,"y":-102},{"t":380,"y":-86},{"t":390,"y":-72},{"t":400,"y":-50},{"t":410,"y":-38},{"t":420,"y":-14},{"t":430,"y":-15},{"t":440,"y":-16},{"t":450,"y":-27},{"t":460,"y":-24},{"t":470,"y":-27},{"t":485,"y":48},{"t":500,"y":54},{"t":510,"y":49},{"t":520,"y":55},{"t":530,"y":52},{"t":540,"y":52},{"t":550,"y":45},{"t":560,"y":46},{"t":570,"y":36},{"t":580,"y":44},{"t":590,"y":44},{"t":600,"y":62},{"t":610,"y":74},{"t":620,"y":87},{"t":630,"y":94},{"t":640,"y":102},{"t":650,"y":110},{"t":660,"y":126},{"t":670,"y":133},{"t":680,"y":157},{"t":690,"y":170},{"t":700,"y":179},{"t":710,"y":172},{"t":720,"y":172},{"t":735,"y":86},{"t":750,"y":79},{"t":760,"y":82},{"t":770,"y":86},{"t":780,"y":100},{"t":790,"y":110},{"t":800,"y":130},{"t":810,"y":146},{"t":820,"y":166},{"t":830,"y":168},{"t":840,"y":174},{"t":850,"y":166},{"t":860,"y":168},{"t":870,"y":163},{"t":880,"y":165}],
"df": [{"t":283.0,"v":-55.5},{"t":283.4,"v":-54.4},{"t":284.0,"v":-52.8},{"t":284.5,"v":-51.5},{"t":285.0,"v":-50.6},{"t":285.5,"v":-48.5},{"t":286.0,"v":-46.5},{"t":286.5,"v":-45.0},{"t":287.0,"v":-43.3},{"t":287.5,"v":-42.4},{"t":288.0,"v":-41.6},{"t":288.5,"v":-41.2},{"t":289.0,"v":-41.5},{"t":289.5,"v":-41.8},{"t":290.0,"v":-41.6},{"t":290.5,"v":-41.9},{"t":291.0,"v":-42.1},{"t":291.5,"v":-42.0},{"t":292.0,"v":-42.3},{"t":292.5,"v":-42.2},{"t":293.0,"v":-42.5},{"t":293.5,"v":-42.9},{"t":294.0,"v":-43.3},{"t":294.3,"v":-42.6},{"t":294.6,"v":-41.5},{"t":295.0,"v":-41.0},{"t":295.4,"v":-40.2},{"t":296.0,"v":-38.4},{"t":296.5,"v":-36.8},{"t":297.0,"v":-35.3},{"t":297.5,"v":-34.0},{"t":298.0,"v":-32.6},{"t":298.5,"v":-31.2},{"t":298.9,"v":-30.8},{"t":299.3,"v":-31.8},{"t":299.9,"v":-33.2},{"t":300.5,"v":-35.0},{"t":301.0,"v":-37.0},{"t":301.5,"v":-38.8},{"t":302.0,"v":-40.8},{"t":302.5,"v":-42.3},{"t":303.1,"v":-43.8},{"t":303.7,"v":-45.0},{"t":304.2,"v":-45.8},{"t":305.2,"v":-46.8},{"t":306.3,"v":-47.2},{"t":307.4,"v":-47.5},{"t":308.0,"v":-45.9},{"t":308.5,"v":-45.8},{"t":308.9,"v":-46.3},{"t":310.0,"v":-46.8},{"t":311.0,"v":-47.3},{"t":311.7,"v":-47.8},{"t":312.8,"v":-48.0},{"t":313.9,"v":-48.3},{"t":315.1,"v":-47.8},{"t":316.4,"v":-47.2},{"t":317.3,"v":-48.3},{"t":318.1,"v":-49.8},{"t":319.2,"v":-51.3},{"t":319.8,"v":-52.4}],
"dg": [{"t":283.2,"v":-54.0},{"t":283.6,"v":-53.0},{"t":283.9,"v":-53.8},{"t":284.3,"v":-51.4},{"t":284.6,"v":-52.2},{"t":285.0,"v":-50.0},{"t":285.3,"v":-49.6},{"t":285.7,"v":-48.8},{"t":286.0,"v":-47.2},{"t":286.4,"v":-45.1},{"t":286.7,"v":-44.8},{"t":287.0,"v":-43.0},{"t":287.3,"v":-41.9},{"t":287.6,"v":-43.2},{"t":288.0,"v":-41.0},{"t":288.3,"v":-44.6},{"t":288.6,"v":-40.6},{"t":289.0,"v":-41.3},{"t":289.3,"v":-42.3},{"t":289.6,"v":-40.9},{"t":290.0,"v":-42.1},{"t":290.3,"v":-41.2},{"t":290.7,"v":-42.6},{"t":291.0,"v":-41.4},{"t":291.3,"v":-42.8},{"t":291.7,"v":-41.6},{"t":292.0,"v":-42.9},{"t":292.3,"v":-41.7},{"t":292.7,"v":-43.0},{"t":293.0,"v":-38.6},{"t":293.3,"v":-41.9},{"t":293.7,"v":-45.3},{"t":294.0,"v":-43.8},{"t":294.3,"v":-42.2},{"t":294.5,"v":-39.1},{"t":294.8,"v":-41.9},{"t":295.1,"v":-40.3},{"t":295.3,"v":-39.6},{"t":298.1,"v":-29.5},{"t":298.4,"v":-28.6},{"t":298.6,"v":-32.4},{"t":298.9,"v":-30.4},{"t":299.2,"v":-33.0},{"t":299.5,"v":-31.5},{"t":299.8,"v":-32.1},{"t":300.1,"v":-35.1},{"t":300.3,"v":-39.1},{"t":300.6,"v":-34.4},{"t":300.9,"v":-36.0},{"t":301.2,"v":-38.6},{"t":301.5,"v":-37.4},{"t":301.8,"v":-40.5},{"t":302.1,"v":-41.9},{"t":302.4,"v":-40.2},{"t":302.7,"v":-43.4},{"t":303.0,"v":-44.6},{"t":303.3,"v":-43.1},{"t":303.6,"v":-45.9},{"t":303.9,"v":-44.6},{"t":304.2,"v":-46.9},{"t":304.5,"v":-45.3},{"t":304.8,"v":-46.0},{"t":305.1,"v":-47.6},{"t":305.4,"v":-46.2},{"t":305.7,"v":-47.9},{"t":306.0,"v":-46.8},{"t":306.3,"v":-47.8},{"t":306.6,"v":-46.5},{"t":306.9,"v":-47.9},{"t":307.2,"v":-47.0},{"t":307.5,"v":-48.0},{"t":307.8,"v":-45.6},{"t":308.0,"v":-44.9},{"t":308.3,"v":-45.3},{"t":308.6,"v":-44.9},{"t":308.9,"v":-46.5},{"t":309.2,"v":-45.6},{"t":309.5,"v":-47.4},{"t":309.8,"v":-46.2},{"t":310.1,"v":-47.6},{"t":310.4,"v":-46.4},{"t":310.7,"v":-47.8},{"t":311.0,"v":-46.6},{"t":311.3,"v":-48.2},{"t":311.6,"v":-47.0},{"t":311.9,"v":-48.4},{"t":312.2,"v":-47.3},{"t":312.5,"v":-48.5},{"t":312.8,"v":-47.5},{"t":313.1,"v":-48.7},{"t":313.4,"v":-47.6},{"t":313.7,"v":-48.9},{"t":314.0,"v":-47.9},{"t":314.3,"v":-48.6},{"t":314.6,"v":-47.3},{"t":314.9,"v":-48.3},{"t":315.2,"v":-47.1},{"t":315.5,"v":-48.0},{"t":315.8,"v":-46.5},{"t":316.1,"v":-47.6},{"t":316.4,"v":-46.3},{"t":316.7,"v":-48.0},{"t":317.0,"v":-47.2},{"t":317.3,"v":-48.9},{"t":317.6,"v":-48.3},{"t":317.9,"v":-50.1},{"t":318.2,"v":-49.2},{"t":318.5,"v":-50.8},{"t":318.8,"v":-50.2},{"t":319.1,"v":-51.6},{"t":319.4,"v":-51.0},{"t":319.7,"v":-52.8}]
},
"resolve": {"scale": {"color": "independent", "x": "independent", "y": "independent", "shape": "independent", "size": "independent"}, "legend": {"color": "independent", "shape": "independent", "size": "independent"}},
"vconcat": [
{
"width": 575, "height": 81,
"layer": [
{"data": {"name": "g"}, "mark": {"type": "point", "filled": false, "strokeWidth": 1.5, "opacity": 1, "clip": true},
 "encoding": {
  "x": {"field": "t", "type": "quantitative", "scale": {"domain": [0, 879], "nice": false, "zero": false}, "axis": {"values": [0,100,200,300,400,500,600,700,800], "title": null}},
  "y": {"field": "p", "type": "quantitative", "scale": {"domain": [-7, 7], "nice": false}, "axis": {"values": [-5,0,5], "title": "Pitch(deg)", "minExtent": 18, "maxExtent": 18, "titlePadding": 7}},
  "color": {"datum": "GPS Pitch", "type": "nominal", "scale": {"domain": ["GPS Pitch", "Filter Pitch"], "range": ["#ee2222", "#2222ee"]},
   "legend": {"title": null, "orient": "none", "legendX": 397, "legendY": 46, "labelFontSize": 15, "padding": 2, "clipHeight": 16, "symbolStrokeWidth": 2.5, "strokeColor": "#666", "fillColor": "#ffffff"}},
  "shape": {"datum": "GPS Pitch", "type": "nominal", "scale": {"domain": ["GPS Pitch", "Filter Pitch"], "range": ["circle", "stroke"]},
   "legend": {"title": null, "orient": "none", "legendX": 397, "legendY": 46}},
  "size": {"datum": "GPS Pitch", "type": "nominal", "scale": {"domain": ["GPS Pitch", "Filter Pitch"], "range": [4, 625]},
   "legend": {"title": null, "orient": "none", "legendX": 397, "legendY": 46}}
 }},
{"data": {"name": "pr"}, "mark": {"type": "line", "strokeWidth": 2, "clip": true},
 "encoding": {
  "x": {"field": "t", "type": "quantitative"},
  "y": {"field": "p", "type": "quantitative"},
  "color": {"datum": "Filter Pitch", "type": "nominal"}
 }}
]
},
{
"width": 575, "height": 81,
"layer": [
{"data": {"name": "g"}, "mark": {"type": "point", "filled": false, "strokeWidth": 1.5, "opacity": 1, "clip": true},
 "encoding": {
  "x": {"field": "t", "type": "quantitative", "scale": {"domain": [0, 879], "nice": false, "zero": false}, "axis": {"values": [0,100,200,300,400,500,600,700,800], "title": null}},
  "y": {"field": "r", "type": "quantitative", "scale": {"domain": [-7, 7], "nice": false}, "axis": {"values": [-5,0,5], "title": "Roll(deg)", "minExtent": 18, "maxExtent": 18, "titlePadding": 7}},
  "color": {"datum": "GPS Roll", "type": "nominal", "scale": {"domain": ["GPS Roll", "Filter Roll"], "range": ["#ee2222", "#2222ee"]},
   "legend": {"title": null, "orient": "none", "legendX": 402, "legendY": 44, "labelFontSize": 15, "padding": 2, "clipHeight": 16, "symbolStrokeWidth": 2.5, "strokeColor": "#666", "fillColor": "#ffffff"}},
  "shape": {"datum": "GPS Roll", "type": "nominal", "scale": {"domain": ["GPS Roll", "Filter Roll"], "range": ["circle", "stroke"]},
   "legend": {"title": null, "orient": "none", "legendX": 402, "legendY": 44}},
  "size": {"datum": "GPS Roll", "type": "nominal", "scale": {"domain": ["GPS Roll", "Filter Roll"], "range": [4, 625]},
   "legend": {"title": null, "orient": "none", "legendX": 402, "legendY": 44}}
 }},
{"data": {"name": "pr"}, "mark": {"type": "line", "strokeWidth": 2, "clip": true},
 "encoding": {
  "x": {"field": "t", "type": "quantitative"},
  "y": {"field": "r", "type": "quantitative"},
  "color": {"datum": "Filter Roll", "type": "nominal"}
 }}
]
},
{
"width": 575, "height": 81,
"layer": [
{"data": {"name": "yf"}, "mark": {"type": "line", "strokeWidth": 2, "clip": true},
 "encoding": {
  "x": {"field": "t", "type": "quantitative", "scale": {"domain": [0, 879], "nice": false, "zero": false}, "axis": {"values": [0,100,200,300,400,500,600,700,800], "title": null}},
  "y": {"field": "y", "type": "quantitative", "scale": {"domain": [-180, 180], "nice": false}, "axis": {"values": [-100,0,100], "title": "Yaw(deg)", "titleAnchor": "end", "minExtent": 18, "maxExtent": 18, "titlePadding": 7}},
  "color": {"datum": "Filter Yaw", "type": "nominal", "scale": {"domain": ["GPS Yaw", "Filter Yaw"], "range": ["#ee2222", "#2222ee"]},
   "legend": {"title": null, "orient": "none", "legendX": 442, "legendY": 41, "labelFontSize": 15, "padding": 2, "clipHeight": 16, "symbolStrokeWidth": 2.5, "strokeColor": "#666", "fillColor": "#ffffff"}}
 }},
{"data": {"name": "yg"}, "mark": {"type": "point", "filled": false, "strokeWidth": 1.2, "opacity": 0.8, "clip": true},
 "encoding": {
  "x": {"field": "t", "type": "quantitative"},
  "y": {"field": "y", "type": "quantitative"},
  "color": {"datum": "GPS Yaw", "type": "nominal"},
  "shape": {"datum": "GPS Yaw", "type": "nominal", "scale": {"domain": ["GPS Yaw", "Filter Yaw"], "range": ["circle", "stroke"]},
   "legend": {"title": null, "orient": "none", "legendX": 442, "legendY": 41}},
  "size": {"datum": "GPS Yaw", "type": "nominal", "scale": {"domain": ["GPS Yaw", "Filter Yaw"], "range": [3, 625]},
   "legend": {"title": null, "orient": "none", "legendX": 442, "legendY": 41}}
 }},
{"data": {"values": [{"t": 267.6, "t2": 323.7, "v": 2.6, "v2": -70.5}]}, "mark": {"type": "rect", "fillOpacity": 0, "stroke": "#e03ce0", "strokeWidth": 1},
 "encoding": {"x": {"field": "t", "type": "quantitative"}, "x2": {"field": "t2"}, "y": {"field": "v", "type": "quantitative"}, "y2": {"field": "v2"}}},
{"data": {"values": [{"t": 287.5, "v": 76, "label": "Detail A"}]}, "mark": {"type": "text", "fontSize": 18, "color": "#e03ce0", "align": "center", "baseline": "middle"},
 "encoding": {"x": {"field": "t", "type": "quantitative"}, "y": {"field": "v", "type": "quantitative"}, "text": {"field": "label"}}}
]
},
{
"width": 575, "height": 78,
"layer": [
{"data": {"name": "dg"}, "mark": {"type": "point", "filled": false, "strokeWidth": 1.5, "opacity": 1, "clip": true},
 "encoding": {
  "x": {"field": "t", "type": "quantitative", "scale": {"domain": [282.8, 319.8], "nice": false, "zero": false}, "axis": {"values": [285,290,295,300,305,310,315], "title": "Time(sec)", "titlePadding": 8}},
  "y": {"field": "v", "type": "quantitative", "scale": {"domain": [-55, -20], "nice": false, "zero": false}, "axis": {"values": [-40,-20], "title": "Yaw(deg)", "minExtent": 18, "maxExtent": 18, "titlePadding": 7}},
  "color": {"datum": "GPS Yaw", "type": "nominal", "scale": {"domain": ["GPS Yaw", "Filter Yaw"], "range": ["#ee2222", "#2222ee"]},
   "legend": {"title": null, "orient": "none", "legendX": 459, "legendY": 0, "labelFontSize": 15, "padding": 2, "clipHeight": 16, "symbolStrokeWidth": 2.5, "strokeColor": "#666", "fillColor": "#ffffff"}},
  "shape": {"datum": "GPS Yaw", "type": "nominal", "scale": {"domain": ["GPS Yaw", "Filter Yaw"], "range": ["circle", "stroke"]},
   "legend": {"title": null, "orient": "none", "legendX": 459, "legendY": 0}},
  "size": {"datum": "GPS Yaw", "type": "nominal", "scale": {"domain": ["GPS Yaw", "Filter Yaw"], "range": [4, 625]},
   "legend": {"title": null, "orient": "none", "legendX": 459, "legendY": 0}}
 }},
{"data": {"name": "df"}, "mark": {"type": "line", "strokeWidth": 1.5, "clip": true},
 "encoding": {
  "x": {"field": "t", "type": "quantitative"},
  "y": {"field": "v", "type": "quantitative"},
  "color": {"datum": "Filter Yaw", "type": "nominal"}
 }},
{"data": {"values": [{"t": 295.6, "t2": 297.5, "v": -41.8}, {"t": 297.4, "t2": 298.3, "v": -28.8}]}, "mark": {"type": "rule", "color": "#ee2222", "strokeWidth": 2.5},
 "encoding": {"x": {"field": "t", "type": "quantitative"}, "x2": {"field": "t2"}, "y": {"field": "v", "type": "quantitative"}}},
{"data": {"values": [{"t": 295.53, "t2": 295.53, "v": -21.6, "v2": -34.0}, {"t": 298.36, "t2": 298.36, "v": -21.3, "v2": -24.8}, {"t": 295.53, "t2": 300.0, "v": -23.0, "v2": -23.0}]}, "mark": {"type": "rule", "color": "#222", "strokeWidth": 1},
 "encoding": {"x": {"field": "t", "type": "quantitative"}, "x2": {"field": "t2"}, "y": {"field": "v", "type": "quantitative"}, "y2": {"field": "v2"}}},
{"data": {"values": [{"t": 295.75, "v": -23.0}]}, "mark": {"type": "point", "shape": "triangle-left", "size": 40, "filled": true, "color": "#222", "opacity": 1},
 "encoding": {"x": {"field": "t", "type": "quantitative"}, "y": {"field": "v", "type": "quantitative"}}},
{"data": {"values": [{"t": 298.14, "v": -23.0}]}, "mark": {"type": "point", "shape": "triangle-right", "size": 40, "filled": true, "color": "#222", "opacity": 1},
 "encoding": {"x": {"field": "t", "type": "quantitative"}, "y": {"field": "v", "type": "quantitative"}}},
{"data": {"values": [{"t": 300.4, "v": -23.1, "label": "GPS Outage"}]}, "mark": {"type": "text", "fontSize": 12, "color": "#222", "align": "left", "baseline": "middle"},
 "encoding": {"x": {"field": "t", "type": "quantitative"}, "y": {"field": "v", "type": "quantitative"}, "text": {"field": "label"}}},
{"data": {"values": [{"t": 289.2, "v": -27.3, "label": "Detail A"}]}, "mark": {"type": "text", "fontSize": 19, "color": "#e03ce0", "align": "center", "baseline": "middle"},
 "encoding": {"x": {"field": "t", "type": "quantitative"}, "y": {"field": "v", "type": "quantitative"}, "text": {"field": "label"}}}
]
}
],
"config": {
 "view": {"stroke": "#222", "strokeWidth": 1},
 "font": "Liberation Sans",
 "axis": {"grid": false, "domain": false, "tickSize": 4, "tickColor": "#222", "labelFontSize": 12, "labelColor": "#1a1a1a", "labelPadding": 2, "titleFontSize": 13, "titleFontWeight": "normal", "titleColor": "#1a1a1a"}
}
}
